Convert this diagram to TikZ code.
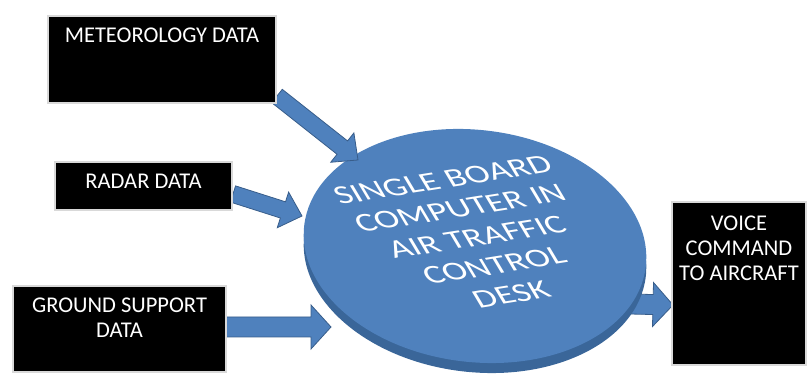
\documentclass[tikz,border=0pt]{standalone}
\usepackage{fontspec}
\setmainfont{Carlito}
\usetikzlibrary{calc}

\definecolor{discblue}{HTML}{4F81BD}
\definecolor{discrim}{HTML}{3A6699}
\definecolor{arrowline}{HTML}{385D8A}

\tikzset{
  databox/.style={fill=black, draw=black!15, line width=1.5pt, inner sep=0pt},
  boxtext/.style={text=white, align=center, anchor=north, inner sep=0pt,
    font=\fontsize{22.5}{25}\selectfont},
  blockarrow/.style={fill=discblue, draw=arrowline, line width=0.8pt, line join=miter},
}

% block arrow from tail #2 to tip #3, shaft half width #1
\newcommand{\blockarrow}[3][9]{%
  \filldraw[blockarrow] let \p1=($(#3)-(#2)$), \n1={atan2(\y1,\x1)}, \n2={veclen(\x1,\y1)} in
    ($(#2)+(\n1+90:#1pt)$) -- ++(\n1:\n2-20pt) -- ++(\n1+90:1.2*#1pt) -- (#3)
    -- ($(#3)+(\n1:-20pt)+(\n1-90:2.2*#1pt)$) -- ++(\n1+90:1.2*#1pt)
    -- ($(#2)+(\n1-90:#1pt)$) -- cycle;
}

\begin{document}
\begin{tikzpicture}[x=1pt,y=1pt]
\useasboundingbox (0,0) rectangle (807,379);

% connector ends
\coordinate (metout) at (277,283);
\coordinate (metin) at (358,219);
\coordinate (radout) at (233,185);
\coordinate (radin) at (302,163);
\coordinate (gndout) at (222,52);
\coordinate (gndin) at (331,52);
\coordinate (sbcout) at (630,75);
\coordinate (voicein) at (673,74);

\blockarrow[10]{sbcout}{voicein}

% the disc
\fill[discrim, rotate around={-7:(475,123)}] (475,123) ellipse (172 and 116);
\fill[discblue, rotate around={-7:(475,133)}] (475,133) ellipse (172 and 116);
\node[text=white, align=center, font=\fontsize{27}{31}\selectfont,
  rotate=9, xslant=-0.4, xscale=1.33] (sbc) at (477,142)
  {SINGLE BOARD\\COMPUTER IN\\AIR TRAFFIC\\CONTROL\\DESK};

\blockarrow[8.5]{metout}{metin}
\blockarrow[8.5]{radout}{radin}
\blockarrow[10]{gndout}{gndin}

% data boxes
\node[databox, minimum width=228pt, minimum height=87pt] (met) at (162,319.5) {};
\node[boxtext] (mettext) at ([yshift=-12pt]met.north) {METEOROLOGY DATA};

\node[databox, minimum width=177pt, minimum height=48pt] (radar) at (143.5,193) {};
\node[boxtext] (radartext) at ([yshift=-13pt]radar.north) {RADAR DATA};

\node[databox, minimum width=213pt, minimum height=86pt] (ground) at (119.5,50) {};
\node[boxtext] (groundtext) at ([yshift=-12pt]ground.north) {GROUND SUPPORT\\DATA};

\node[databox, minimum width=134pt, minimum height=163pt] (voice) at (739,95.5) {};
\node[boxtext] (voicetext) at ([yshift=-14pt]voice.north) {VOICE\\COMMAND\\TO AIRCRAFT};
\end{tikzpicture}
\end{document}
